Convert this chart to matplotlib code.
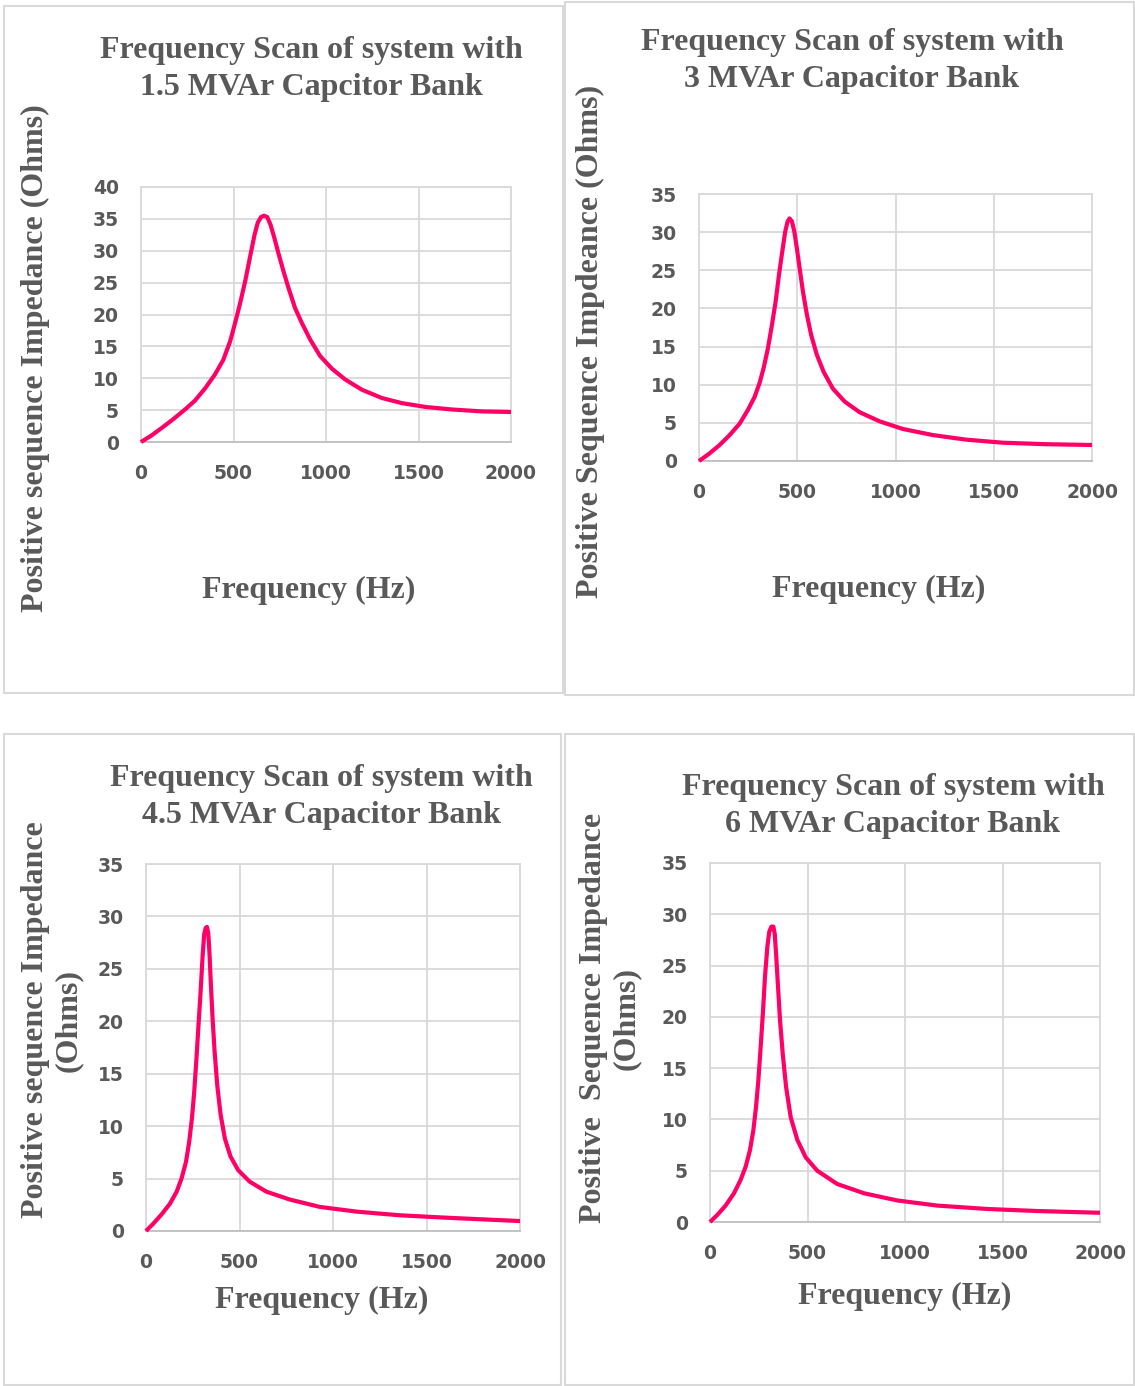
import matplotlib
matplotlib.use("Agg")
import matplotlib.pyplot as plt
from matplotlib.patches import Rectangle

W, H = 1135, 1386

# Frequency (Hz) and impedance (Ohms) for each bank
freq_15 = [0, 58, 112, 175, 238, 292, 346, 400, 445, 482, 509, 536, 563, 590, 613,
           631, 649, 665, 682, 700, 721, 743, 770, 797, 833, 869, 914, 968, 1032,
           1104, 1194, 1302, 1410, 1537, 1681, 1843, 2000]
imp_15 = [0, 1.05, 2.2, 3.6, 5.1, 6.5, 8.4, 10.6, 12.9, 15.8, 18.7, 21.8, 25.2, 29.1, 32.4,
          34.4, 35.3, 35.5, 35.3, 34.1, 32.0, 29.6, 26.8, 24.2, 21.0, 18.7, 16.1, 13.5, 11.5,
          9.8, 8.2, 6.9, 6.1, 5.5, 5.1, 4.8, 4.7]

freq_3 = [0, 54, 105, 156, 207, 249, 283, 308, 329, 351, 371, 390, 407, 424, 439,
          451, 461, 473, 485, 498, 512, 529, 549, 571, 600, 634, 681, 741, 817, 919,
          1037, 1190, 1359, 1546, 1766, 2000]
imp_3 = [0, 1.0, 2.1, 3.4, 4.9, 6.7, 8.4, 10.2, 12.2, 14.8, 17.8, 20.9, 24.4, 27.5, 30.1,
         31.4, 31.8, 31.4, 30.1, 27.9, 25.3, 22.2, 19.2, 16.5, 13.9, 11.7, 9.5, 7.8, 6.4, 5.2,
         4.2, 3.4, 2.8, 2.4, 2.2, 2.1]

freq_45 = [0, 39, 84, 128, 164, 190, 214, 231, 246, 258, 270, 281, 292, 302, 311,
           319, 326, 333, 340, 347, 356, 367, 381, 399, 422, 452, 493, 555, 644, 769,
           929, 1125, 1356, 1605, 1836, 2000]
imp_45 = [0, 0.7, 1.6, 2.6, 3.75, 5.0, 6.6, 8.5, 10.8, 13.3, 16.5, 19.7, 22.8, 26.0, 28.3,
          28.9, 29.0, 28.4, 26.3, 23.5, 20.3, 17.1, 13.9, 11.1, 8.8, 7.1, 5.8, 4.7, 3.75, 3.0,
          2.3, 1.85, 1.5, 1.27, 1.08, 0.95]

freq_6 = [0, 38, 80, 123, 157, 183, 205, 222, 236, 248, 260, 272, 282, 294, 304,
          315, 325, 332, 340, 349, 359, 373, 390, 414, 448, 491, 550, 653, 790, 961,
          1166, 1422, 1679, 2000]
imp_6 = [0, 0.7, 1.6, 2.8, 4.1, 5.4, 7.0, 8.9, 11.2, 13.8, 17.1, 20.6, 23.9, 26.8, 28.3,
         28.8, 28.8, 28.1, 25.8, 22.9, 19.7, 16.4, 13.2, 10.2, 8.0, 6.3, 5.0, 3.7, 2.8, 2.1,
         1.6, 1.27, 1.07, 0.9]

titles = ["Frequency Scan of system with\n1.5 MVAr Capcitor Bank",
          "Frequency Scan of system with\n3 MVAr Capacitor Bank",
          "Frequency Scan of system with\n4.5 MVAr Capacitor Bank",
          "Frequency Scan of system with\n6 MVAr Capacitor Bank"]
ylabels = ["Positive sequence Impedance (Ohms)",
           "Positive Sequence Impdeance (Ohms)",
           "Positive sequence Impedance\n(Ohms)",
           "Positive  Sequence Impedance\n(Ohms)"]
ymax = [40, 35, 35, 35]

GRAY = "#595959"
GRID = "#d9d9d9"
PINK = "#ff0066"

# pixel boxes: panel frame, axes (l, t, r, b), title centre, xlabel centre, ylabel centre
frames = [(4, 6, 563, 693), (565, 2, 1134, 695), (4, 734, 561, 1385), (565, 734, 1134, 1385)]
axboxes = [(141, 187, 511, 442), (699, 194, 1092, 461), (146, 864, 520, 1231), (710, 863, 1100, 1222)]
title_pos = [(311, 69), (852, 61), (321, 797), (893, 806)]
xlab_pos = [(309, 590), (879, 589), (322, 1300), (905, 1296)]
ylab_pos = [(35, 358), (590, 341), (52, 1020), (610, 1018)]

series = [(freq_15, imp_15), (freq_3, imp_3), (freq_45, imp_45), (freq_6, imp_6)]

fig = plt.figure(figsize=(W / 100, H / 100), dpi=100)

for i in range(4):
    fx0, fy0, fx1, fy1 = frames[i]
    fig.patches.append(Rectangle((fx0 / W, 1 - fy1 / H), (fx1 - fx0) / W, (fy1 - fy0) / H,
                                 transform=fig.transFigure, fill=False,
                                 edgecolor=GRID, linewidth=1.5))

    l, t, r, b = axboxes[i]
    ax = fig.add_axes([l / W, 1 - b / H, (r - l) / W, (b - t) / H])
    x, y = series[i]
    ax.plot(x, y, color=PINK, linewidth=3.0, solid_joinstyle="round",
            solid_capstyle="butt", zorder=3, clip_on=False)
    ax.set_xlim(0, 2000)
    ax.set_ylim(0, ymax[i])
    ax.set_xticks([0, 500, 1000, 1500, 2000])
    ax.set_yticks(range(0, ymax[i] + 1, 5))
    ax.grid(True, color=GRID, linewidth=1.3)
    ax.set_axisbelow(True)
    for s in ax.spines.values():
        s.set_color(GRID)
        s.set_linewidth(1.3)
    ax.spines["bottom"].set_color("#bfbfbf")
    ax.tick_params(length=0, labelsize=13.5, labelcolor=GRAY, pad=16)
    for lab in ax.get_xticklabels() + ax.get_yticklabels():
        lab.set_fontweight("bold")
        lab.set_family("DejaVu Sans")

    tx, ty = title_pos[i]
    fig.text(tx / W, 1 - ty / H, titles[i], ha="center", va="center",
             family="Liberation Serif", fontweight="bold", fontsize=23,
             color=GRAY, linespacing=1.32)
    xx, xy = xlab_pos[i]
    fig.text(xx / W, 1 - xy / H, "Frequency (Hz)", ha="center", va="center",
             family="Liberation Serif", fontweight="bold", fontsize=23, color=GRAY)
    yx, yy = ylab_pos[i]
    fig.text(yx / W, 1 - yy / H, ylabels[i], ha="center", va="center", rotation=90,
             family="Liberation Serif", fontweight="bold", fontsize=23,
             color=GRAY, linespacing=1.15)

fig.savefig("out.png", dpi=100, facecolor="white")
